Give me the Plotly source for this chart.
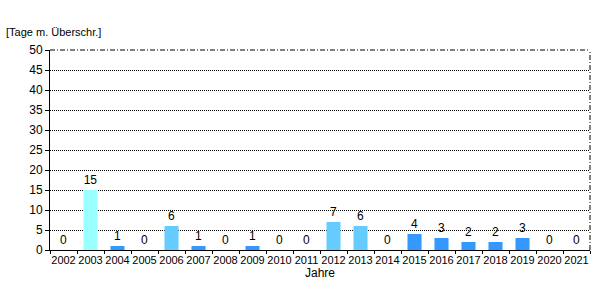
import plotly.graph_objects as go

years = [str(y) for y in range(2002, 2022)]
values = [0, 15, 1, 0, 6, 1, 0, 1, 0, 0, 7, 6, 0, 4, 3, 2, 2, 3, 0, 0]
colors = ["#3399FF", "#99FFFF", "#3399FF", "#3399FF", "#66CCFF", "#3399FF", "#3399FF",
          "#3399FF", "#3399FF", "#3399FF", "#66CCFF", "#66CCFF", "#3399FF", "#3399FF",
          "#3399FF", "#3399FF", "#3399FF", "#3399FF", "#3399FF", "#3399FF"]
y_ticks = list(range(0, 55, 5))

fig = go.Figure(go.Bar(
    x=years, y=values, marker=dict(color=colors, line=dict(width=0)),
    width=0.52, text=[str(v) for v in values], textposition="outside",
    textfont=dict(family="Liberation Sans, Arial", size=12, color="black"),
    cliponaxis=False,
))

fig.update_layout(
    width=600, height=300, margin=dict(l=50, r=10, t=50, b=50, autoexpand=False),
    paper_bgcolor="white", plot_bgcolor="white", showlegend=False,
    font=dict(family="Liberation Sans, Arial", size=12, color="black"),
    xaxis=dict(type="category", tickson="boundaries", ticks="outside", ticklen=3,
               tickcolor="black", showline=True, linecolor="black", linewidth=1,
               showgrid=False, tickangle=0, automargin=False,
               title=dict(text="Jahre", standoff=0, font=dict(size=12)),
               tickfont=dict(size=11)),
    yaxis=dict(range=[0, 50], tickvals=y_ticks, ticks="outside", ticklen=4,
               tickcolor="black", showline=True, linecolor="black", linewidth=1,
               showgrid=True, gridcolor="black", griddash="1px,1px", gridwidth=1,
               zeroline=False, automargin=False, tickfont=dict(size=12)),
    annotations=[dict(text="[Tage m. Überschr.]", xref="paper", yref="paper",
                      x=-46/540, y=1.05, xanchor="left", yanchor="bottom",
                      showarrow=False, font=dict(size=11))],
    shapes=[
        dict(type="line", xref="paper", yref="paper", x0=0, x1=1, y0=1, y1=1,
             line=dict(color="black", width=1, dash="5px,2px,1px,2px")),
        dict(type="line", xref="paper", yref="paper", x0=1, x1=1, y0=0, y1=1,
             line=dict(color="black", width=1, dash="5px,2px,1px,2px")),
    ],
)
fig.write_html("out.html")
